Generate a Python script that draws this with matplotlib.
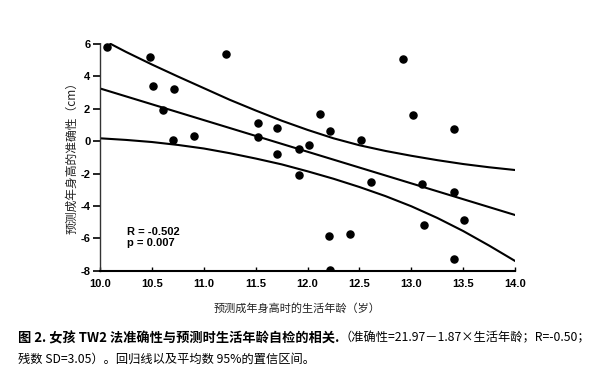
import matplotlib
matplotlib.use('Agg')
from matplotlib import pyplot as plt

plt.rcParams['font.family'] = ['Liberation Sans', 'Noto Sans CJK SC', 'DejaVu Sans']
plt.rcParams['axes.unicode_minus'] = False

# 散点：预测时生活年龄（岁） / 预测成年身高的准确性（cm）
age = [10.07, 10.48, 10.51, 10.71, 10.61, 10.70, 10.91, 11.21, 11.52, 11.52,
       11.71, 11.71, 11.92, 11.92, 12.01, 12.12, 12.22, 12.21, 12.22, 12.52,
       12.61, 12.41, 12.92, 13.02, 13.10, 13.12, 13.41, 13.41, 13.51, 13.41]
accuracy = [5.8, 5.2, 3.4, 3.2, 1.95, 0.1, 0.3, 5.4, 1.15, 0.25,
            0.8, -0.8, -0.48, -2.1, -0.25, 1.7, 0.65, -5.85, -7.95, 0.1,
            -2.5, -5.75, 5.1, 1.6, -2.65, -5.15, 0.75, -3.15, -4.85, -7.3]

# 回归线
fit_x = [10.0, 14.0]
fit_y = [3.26, -4.56]

# 平均数 95% 置信区间（上、下）
upper_x = [10.1, 10.25, 10.5, 10.75, 11.0, 11.25, 11.5, 11.75, 12.0,
           12.25, 12.5, 12.75, 13.0, 13.25, 13.5, 13.75, 14.0]
upper_y = [6.02, 5.52, 4.74, 4.00, 3.28, 2.56, 1.90, 1.27, 0.70,
           0.18, -0.25, -0.60, -0.90, -1.17, -1.41, -1.61, -1.78]
lower_x = [10.0, 10.25, 10.5, 10.75, 11.0, 11.25, 11.5, 11.75, 12.0,
           12.25, 12.5, 12.75, 13.0, 13.25, 13.5, 13.75, 14.0]
lower_y = [0.18, 0.08, -0.05, -0.23, -0.45, -0.74, -1.07, -1.43, -1.86,
           -2.32, -2.83, -3.39, -4.02, -4.74, -5.55, -6.45, -7.40]

x_ticks = [10.0, 10.5, 11.0, 11.5, 12.0, 12.5, 13.0, 13.5, 14.0]
y_ticks = [-8, -6, -4, -2, 0, 2, 4, 6]

fig = plt.figure(figsize=(5.92, 3.90), dpi=100)
ax = fig.add_axes([0.169, 0.306, 0.701, 0.585])

ax.plot(fit_x, fit_y, color='black', lw=1.5)
ax.plot(upper_x, upper_y, color='black', lw=1.5)
ax.plot(lower_x, lower_y, color='black', lw=1.5)
ax.scatter(age, accuracy, s=26, color='black', zorder=3)

ax.set_xlim(10.0, 14.0)
ax.set_ylim(-8, 6.1)
ax.set_xticks(x_ticks)
ax.set_xticklabels([f'{v:.1f}' for v in x_ticks])
ax.set_yticks(y_ticks)

for s in ['top', 'right']:
    ax.spines[s].set_visible(False)
ax.spines['left'].set_linestyle((0, (1.5, 1)))
ax.spines['left'].set_color('#333333')
ax.spines['left'].set_linewidth(1.0)
ax.spines['bottom'].set_linewidth(1.5)

ax.tick_params(axis='y', direction='out', length=5, width=1.2, pad=2)
ax.tick_params(axis='x', direction='in', length=3, width=1.0, pad=6)
for lab in ax.get_xticklabels() + ax.get_yticklabels():
    lab.set_fontweight('bold')
    lab.set_fontsize(8)

ax.text(10.26, -5.6, 'R = -0.502', fontsize=8, fontweight='bold', va='center')
ax.text(10.26, -6.3, 'p = 0.007', fontsize=8, fontweight='bold', va='center')

cjk = ['Noto Sans CJK SC', 'DejaVu Sans']
fig.text(0.122, 1 - 155 / 390, '预测成年身高的准确性（cm）', rotation=90, ha='center', va='center',
         fontsize=8.5, family=cjk, color='#222222')
fig.text(0.502, 0.21, '预测成年身高时的生活年龄（岁）', ha='center', va='center',
         fontsize=8, family=cjk, color='#222222')

t1 = fig.text(0.030, 1 - 338 / 390, '图 2. 女孩 TW2 法准确性与预测时生活年龄自检的相关.', ha='left', va='center',
              fontsize=9.5, fontweight='bold', family=cjk)
fig.canvas.draw()
ax.annotate('（准确性=21.97－1.87×生活年龄；R=-0.50；', xy=(1, 0.5), xycoords=t1,
            ha='left', va='center', fontsize=8.8, family=cjk)
fig.text(0.030, 1 - 359 / 390, '残数 SD=3.05）。回归线以及平均数 95%的置信区间。', ha='left', va='center',
         fontsize=8.8, family=cjk)

fig.savefig('out.png', dpi=100)
